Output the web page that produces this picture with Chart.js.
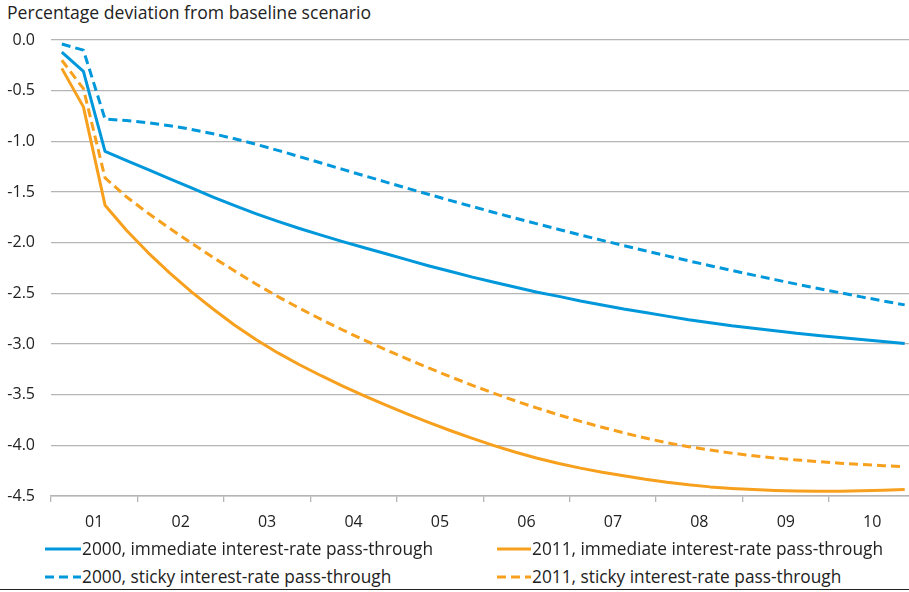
<!DOCTYPE html>
<html>
<head>
<meta charset="utf-8">
<script src="https://cdn.jsdelivr.net/npm/chart.js@4.4.1/dist/chart.umd.min.js"></script>
<style>
    body { margin: 0; background: #fff; }
    .wrap { position: relative; width: 909px; height: 592px; font-family: "Open Sans", sans-serif; color: #222; }
    .title { position: absolute; left: 7px; top: 0px; font-size: 17.6px; white-space: nowrap; }
    canvas { position: absolute; left: 0; top: 0; }
    .legend-item { position: absolute; font-size: 17.3px; display: flex; align-items: center; white-space: nowrap; }
    .legend-item svg { margin-right: 1px; }
    .rule { position: absolute; left: 0; top: 589px; width: 909px; height: 0; border-top: 1.5px solid #222; }
</style>
</head>
<body>
<div class="wrap">
    <div class="title">Percentage deviation from baseline scenario</div>
    <canvas id="chart" width="909" height="540"></canvas>
    <div class="legend-item" style="left:45px; top:537px;"><svg width="36" height="6"><line x1="0" y1="3" x2="36" y2="3" stroke="#0098db" stroke-width="3"/></svg>2000, immediate interest-rate pass-through</div>
    <div class="legend-item" style="left:497px; top:537px;"><svg width="34" height="6"><line x1="0" y1="3" x2="34" y2="3" stroke="#f7a01e" stroke-width="3"/></svg>2011, immediate interest-rate pass-through</div>
    <div class="legend-item" style="left:45px; top:565px;"><svg width="36" height="6"><line x1="0" y1="3" x2="36" y2="3" stroke="#0098db" stroke-width="3" stroke-dasharray="9 5"/></svg>2000, sticky interest-rate pass-through</div>
    <div class="legend-item" style="left:497px; top:565px;"><svg width="34" height="6"><line x1="0" y1="3" x2="34" y2="3" stroke="#f7a01e" stroke-width="3" stroke-dasharray="9 5"/></svg>2011, sticky interest-rate pass-through</div>
    <div class="rule"></div>
</div>
<script>
// year labels on the x axis (quarterly data, 4 points per year)
const years = ["01", "02", "03", "04", "05", "06", "07", "08", "09", "10"];

const immediate2000 = [-0.12, -0.31, -1.10, -1.19, -1.28, -1.37, -1.46, -1.55, -1.635, -1.715,
    -1.79, -1.86, -1.925, -1.99, -2.05, -2.11, -2.17, -2.23, -2.285, -2.34,
    -2.39, -2.44, -2.49, -2.53, -2.575, -2.615, -2.655, -2.69, -2.725, -2.76,
    -2.79, -2.82, -2.845, -2.87, -2.895, -2.915, -2.935, -2.955, -2.975, -2.995];

const sticky2000 = [-0.04, -0.10, -0.78, -0.795, -0.817, -0.846, -0.882, -0.925, -0.975, -1.03,
    -1.089, -1.151, -1.214, -1.277, -1.34, -1.402, -1.464, -1.525, -1.585, -1.644,
    -1.702, -1.759, -1.815, -1.87, -1.924, -1.977, -2.029, -2.08, -2.13, -2.179,
    -2.227, -2.274, -2.32, -2.365, -2.409, -2.452, -2.494, -2.535, -2.575, -2.614];

const immediate2011 = [-0.28, -0.66, -1.63, -1.88, -2.10, -2.30, -2.485, -2.655, -2.815, -2.958,
    -3.088, -3.205, -3.313, -3.415, -3.512, -3.604, -3.692, -3.776, -3.856, -3.932,
    -4.003, -4.068, -4.127, -4.18, -4.225, -4.265, -4.30, -4.335, -4.365, -4.39,
    -4.41, -4.425, -4.437, -4.445, -4.45, -4.452, -4.452, -4.449, -4.443, -4.435];

const sticky2011 = [-0.20, -0.48, -1.36, -1.55, -1.71, -1.86, -2.005, -2.145, -2.28, -2.41,
    -2.532, -2.647, -2.757, -2.862, -2.962, -3.058, -3.15, -3.239, -3.325, -3.408,
    -3.487, -3.562, -3.633, -3.70, -3.763, -3.822, -3.877, -3.928, -3.975, -4.013,
    -4.047, -4.077, -4.103, -4.125, -4.144, -4.161, -4.176, -4.189, -4.201, -4.212];

const yTicks = [0, -0.5, -1, -1.5, -2, -2.5, -3, -3.5, -4, -4.5];

const BLUE = "#0098db";
const ORANGE = "#f7a01e";
const GRID = "#b5b5b5";

// put each quarter in the middle of its slot: x = i + 0.5
const toPoints = values => values.map((v, i) => ({ x: i + 0.5, y: v }));

const makeSet = (label, values, color, dashed) => ({
    label: label,
    data: toPoints(values),
    borderColor: color,
    backgroundColor: color,
    borderWidth: 3,
    borderDash: dashed ? [9, 5] : [],
    borderJoinStyle: "round",
    pointRadius: 0,
    tension: 0,
    fill: false
});

const ctx = document.getElementById("chart").getContext("2d");
const chart = new Chart(ctx, {
    type: "line",
    data: {
        datasets: [
            makeSet("2000, immediate interest-rate pass-through", immediate2000, BLUE, false),
            makeSet("2011, immediate interest-rate pass-through", immediate2011, ORANGE, false),
            makeSet("2000, sticky interest-rate pass-through", sticky2000, BLUE, true),
            makeSet("2011, sticky interest-rate pass-through", sticky2011, ORANGE, true)
        ]
    },
    options: {
        responsive: false,
        animation: false,
        devicePixelRatio: 1,
        layout: { padding: { top: 40, right: 0, left: 0, bottom: 0 } },
        plugins: {
            legend: { display: false },
            tooltip: { enabled: false }
        },
        scales: {
            x: {
                type: "linear",
                min: 0,
                max: 39.7,
                afterBuildTicks: scale => {
                    const ticks = [];
                    for (let v = 0; v < 40; v += 2) ticks.push({ value: v });
                    scale.ticks = ticks;
                },
                afterFit: scale => { scale.height = 44; },
                grid: {
                    drawOnChartArea: false,
                    drawTicks: true,
                    tickLength: 6,
                    lineWidth: 1.3,
                    color: c => (c.tick && c.tick.value % 4 === 0) ? GRID : "rgba(0,0,0,0)"
                },
                border: { display: true, color: GRID, width: 1.5 },
                ticks: {
                    autoSkip: false,
                    maxRotation: 0,
                    padding: 11,
                    color: "#222",
                    font: { family: "Open Sans", size: 16 },
                    callback: value => value % 4 === 2 ? years[(value - 2) / 4] : ""
                }
            },
            y: {
                min: -4.5,
                max: 0,
                afterBuildTicks: scale => { scale.ticks = yTicks.map(v => ({ value: v })); },
                afterFit: scale => { scale.width = 51; },
                grid: { drawTicks: false, color: GRID, lineWidth: 1.3 },
                border: { display: false },
                ticks: {
                    padding: 16,
                    color: "#222",
                    font: { family: "Open Sans", size: 16 },
                    callback: value => value.toFixed(1)
                }
            }
        }
    }
});
</script>
</body>
</html>
